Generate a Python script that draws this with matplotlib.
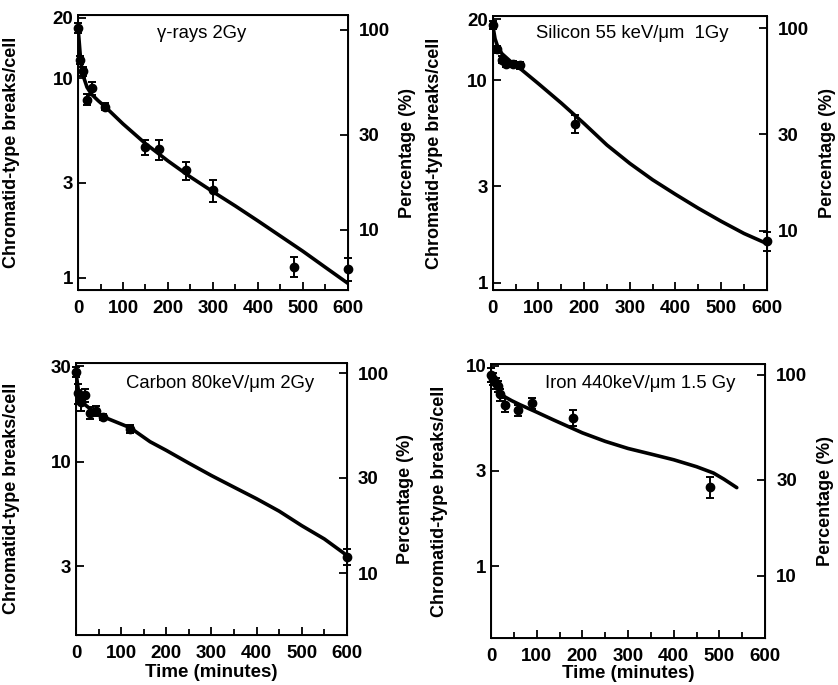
import numpy as np
import matplotlib
matplotlib.use("Agg")
import matplotlib.pyplot as plt
from matplotlib.ticker import FixedLocator, NullLocator, FuncFormatter, MultipleLocator

plt.rcParams['font.family'] = ['Liberation Sans', 'DejaVu Sans']

# ---- data ----
titles = ['γ-rays 2Gy', 'Silicon 55 keV/μm  1Gy', 'Carbon 80keV/μm 2Gy', 'Iron 440keV/μm 1.5 Gy']

# measured points (time in minutes, breaks/cell, error)
gamma_t = [0, 5, 10, 20, 30, 60, 150, 180, 240, 300, 480, 600]
gamma_y = [17.8, 12.3, 10.8, 7.8, 8.9, 7.2, 4.5, 4.4, 3.45, 2.75, 1.14, 1.11]
gamma_e = [1.0, 0.6, 0.5, 0.5, 0.7, 0.3, 0.4, 0.5, 0.36, 0.34, 0.13, 0.15]
gamma_fit_t = [0, 5, 10, 20, 30, 45, 60, 100, 150, 200, 250, 300, 350, 400, 450, 500, 550, 600]
gamma_fit_y = [18.0, 13.0, 10.5, 9.0, 8.3, 7.7, 7.2, 5.9, 4.7, 3.85, 3.2, 2.7, 2.29, 1.93, 1.62,
               1.36, 1.13, 0.94]

si_t = [0, 10, 20, 30, 45, 60, 180, 600]
si_y = [18.7, 14.2, 12.6, 12.0, 12.0, 11.8, 6.1, 1.6]
si_e = [0.8, 0.6, 0.5, 0.4, 0.4, 0.5, 0.6, 0.17]
si_fit_t = [0, 5, 10, 20, 40, 60, 100, 150, 200, 250, 300, 350, 400, 450, 500, 550, 600]
si_fit_y = [18.7, 16.0, 14.8, 13.5, 12.3, 11.4, 9.6, 7.7, 6.1, 4.78, 3.88, 3.22, 2.73, 2.33,
            2.01, 1.75, 1.56]

c_t = [0, 5, 10, 20, 30, 45, 60, 120, 600]
c_y = [28.2, 22.0, 20.0, 21.5, 17.5, 18.0, 16.7, 14.6, 3.35]
c_e = [1.5, 2.5, 2.0, 1.5, 1.2, 1.0, 0.6, 0.6, 0.3]
c_fit_t = [0, 5, 10, 20, 30, 60, 120, 164, 200, 250, 300, 350, 400, 450, 500, 550, 600]
c_fit_y = [28.0, 23.0, 20.5, 19.3, 18.5, 16.8, 14.8, 12.6, 11.4, 9.84, 8.53, 7.46, 6.53, 5.66,
           4.79, 4.11, 3.40]

fe_t = [0, 5, 10, 15, 20, 30, 60, 90, 180, 480]
fe_y = [9.0, 8.6, 8.2, 7.9, 7.2, 6.4, 6.0, 6.5, 5.5, 2.5]
fe_e = [0.7, 0.6, 0.5, 0.5, 0.5, 0.5, 0.4, 0.4, 0.5, 0.3]
fe_fit_t = [0, 10, 20, 30, 45, 63, 100, 136, 200, 250, 300, 350, 400, 450, 487, 510, 538]
fe_fit_y = [9.2, 8.2, 7.4, 7.0, 6.7, 6.4, 5.87, 5.38, 4.63, 4.2, 3.87, 3.63, 3.4, 3.14, 2.92,
            2.72, 2.47]

# value that corresponds to 100 % on the right axis
baseline = [17.4, 18.0, 27.7, 9.0]

left_ticks = [[1, 3, 10, 20], [1, 3, 10, 20], [3, 10, 30], [1, 3, 10]]
right_ticks = [10, 30, 100]

ylims = [(0.87, 20.6), (0.92, 20.7), (1.36, 31.3), (0.44, 10.2)]

panels = [
    (gamma_t, gamma_y, gamma_e, gamma_fit_t, gamma_fit_y),
    (si_t, si_y, si_e, si_fit_t, si_fit_y),
    (c_t, c_y, c_e, c_fit_t, c_fit_y),
    (fe_t, fe_y, fe_e, fe_fit_t, fe_fit_y),
]

# axes rectangles in figure fractions (left, bottom, width, height)
rects = [
    (0.0931, 0.5766, 0.322, 0.401),
    (0.588, 0.5766, 0.327, 0.400),
    (0.0907, 0.073, 0.3233, 0.3975),
    (0.586, 0.0686, 0.327, 0.400),
]
title_pos = [(0.458, 0.933), (0.51, 0.937), (0.531, 0.924), (0.544, 0.93)]
left_lab_x = [-0.215, -0.18, -0.207, -0.157]
right_lab_x = [1.19, 1.19, 1.185, 1.19]
time_lab_y = [None, None, -0.108, -0.097]

fig = plt.figure(figsize=(8.38, 6.85), dpi=100)

fmt = FuncFormatter(lambda v, _: f'{v:g}')

for i, (t, y, e, ft, fy) in enumerate(panels):
    ax = fig.add_axes(rects[i])
    ax.set_yscale('log')
    ax.plot(ft, fy, color='black', lw=2.6, solid_capstyle='round',
            solid_joinstyle='round', zorder=3)
    ax.errorbar(t, y, yerr=e, fmt='o', color='black', ms=6, elinewidth=1.4,
                capsize=3, capthick=1.4, clip_on=False, zorder=4)
    ax.set_xlim(0, 600)
    ax.set_ylim(*ylims[i])
    ax.xaxis.set_major_locator(MultipleLocator(100))
    ax.xaxis.set_minor_locator(MultipleLocator(50))
    ax.yaxis.set_major_locator(FixedLocator(left_ticks[i]))
    ax.yaxis.set_minor_locator(NullLocator())
    ax.yaxis.set_major_formatter(fmt)
    ax.tick_params(axis='both', which='both', direction='in', width=1.3)
    ax.tick_params(axis='both', which='major', length=6, labelsize=13.5)
    ax.tick_params(axis='both', which='minor', length=4)
    ax.tick_params(axis='x', pad=7)
    for lab in ax.get_xticklabels() + ax.get_yticklabels():
        lab.set_fontweight('bold')
    for s in ax.spines.values():
        s.set_linewidth(1.4)

    ax.text(*title_pos[i], titles[i], transform=ax.transAxes, ha='center',
            va='center', fontsize=13.3)
    ax.set_ylabel('Chromatid-type breaks/cell', fontsize=13, fontweight='bold')
    ax.yaxis.set_label_coords(left_lab_x[i], 0.5)
    if time_lab_y[i] is not None:
        ax.set_xlabel('Time (minutes)', fontsize=13.5, fontweight='bold')
        ax.xaxis.set_label_coords(0.5, time_lab_y[i])

    ax2 = ax.twinx()
    ax2.set_yscale('log')
    ax2.set_ylim(ylims[i][0] / baseline[i] * 100, ylims[i][1] / baseline[i] * 100)
    ax2.yaxis.set_major_locator(FixedLocator(right_ticks))
    ax2.yaxis.set_minor_locator(NullLocator())
    ax2.yaxis.set_major_formatter(fmt)
    ax2.tick_params(axis='y', which='major', direction='in', length=6, width=1.3,
                    labelsize=13.5, pad=8)
    for lab in ax2.get_yticklabels():
        lab.set_fontweight('bold')
    ax2.set_ylabel('Percentage (%)', fontsize=13, fontweight='bold', rotation=90)
    ax2.yaxis.set_label_coords(right_lab_x[i], 0.5)

fig.savefig('out.png', dpi=100)
